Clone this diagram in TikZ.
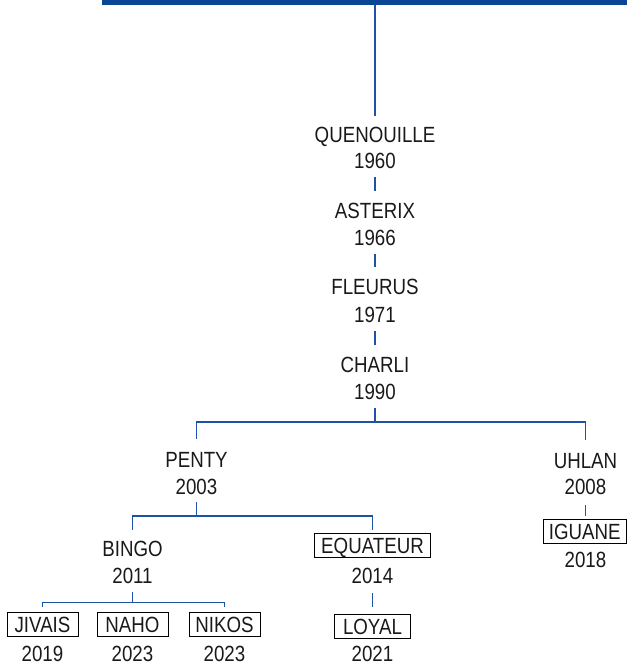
\documentclass[tikz,border=0pt]{standalone}
\usepackage{fontspec}
\setmainfont[FakeStretch=0.85]{Liberation Sans}
\definecolor{linkblue}{RGB}{30,82,165}
\definecolor{barblue}{RGB}{10,70,150}
\definecolor{txt}{RGB}{25,25,25}
\tikzset{
  lbl/.style={anchor=base, inner sep=0pt, text height=16pt, text depth=0pt, text=txt,
    font=\fontsize{22}{26}\selectfont},
  boxed/.style={lbl, draw=black, line width=0.9pt, inner ysep=4pt, inner xsep=2pt},
  link/.style={draw=linkblue, line width=1.1pt},
}
\begin{document}
\begin{tikzpicture}[x=1pt,y=-1pt]
\useasboundingbox (0,0) rectangle (627,667);
\fill[barblue] (102,0) rectangle (627,4.5);
\coordinate (top) at (375,4.5);
% main line
\node[lbl] (quen) at (375,142) {QUENOUILLE};
\node[lbl] (y1960) at (375,168) {1960};
\node[lbl] (asterix) at (375,218) {ASTERIX};
\node[lbl] (y1966) at (375,245) {1966};
\node[lbl] (fleurus) at (375,294) {FLEURUS};
\node[lbl] (y1971) at (375,322) {1971};
\node[lbl] (charli) at (375,372) {CHARLI};
\node[lbl] (y1990) at (375,399) {1990};
% level 2
\node[lbl] (penty) at (196.5,467.5) {PENTY};
\node[lbl] (y2003) at (196.5,494) {2003};
\node[lbl] (uhlan) at (585.5,468.5) {UHLAN};
\node[lbl] (y2008) at (585.5,494.5) {2008};
% level 3
\node[lbl] (bingo) at (132.5,556) {BINGO};
\node[lbl] (y2011) at (132.5,583) {2011};
\node[boxed, minimum width=116pt] (equateur) at (372.5,553) {EQUATEUR};
\node[lbl] (y2014) at (372.5,583) {2014};
\node[boxed, minimum width=83.5pt] (iguane) at (584.75,539.5) {IGUANE};
\node[lbl] (y2018) at (585.5,567) {2018};
% level 4
\node[boxed, minimum width=71pt] (jivais) at (42.5,632.5) {JIVAIS};
\node[lbl] (y2019) at (42.5,661) {2019};
\node[boxed, minimum width=71pt] (naho) at (132.5,632.5) {NAHO};
\node[lbl] (y2023a) at (132.5,661) {2023};
\node[boxed, minimum width=71pt] (nikos) at (224.5,632.5) {NIKOS};
\node[lbl] (y2023b) at (224.5,661) {2023};
\node[boxed, minimum width=76pt] (loyal) at (372.5,634) {LOYAL};
\node[lbl] (y2021) at (372.5,661) {2021};
% connectors
\path[link, shorten >=10pt] (top) -- (quen.north);
\path[link, shorten <=9pt, shorten >=11pt] (y1960.south) -- (asterix.north);
\path[link, shorten <=9pt, shorten >=11pt] (y1966.south) -- (fleurus.north);
\path[link, shorten <=9pt, shorten >=11pt] (y1971.south) -- (charli.north);
% branch from CHARLI
\coordinate (b1990) at (375,422);
\path[link, shorten <=9pt] (y1990.south) -- (b1990);
\path[link, shorten >=12pt] (b1990) -| (penty.north);
\path[link, shorten >=12pt] (b1990) -| (uhlan.north);
% branch from PENTY
\coordinate (b2003) at (196.5,516);
\path[link, shorten <=8pt] (y2003.south) -- (b2003);
\path[link, shorten >=10pt] (b2003) -| (bingo.north);
\path[link, shorten >=3pt] (b2003) -| (equateur.north);
% UHLAN -> IGUANE
\path[link, shorten <=10pt, shorten >=3pt] (y2008.south) -- (y2008.south |- iguane.north);
% branch from BINGO
\coordinate (b2011) at (132.5,602.5);
\path[link, shorten <=9pt] (y2011.south) -- (b2011);
\path[link, shorten >=5pt] (b2011) -| (jivais.north);
\path[link, shorten >=5pt] (b2011) -| (nikos.north);
% EQUATEUR -> LOYAL
\path[link, shorten <=10pt, shorten >=7pt] (y2014.south) -- (loyal.north);
\end{tikzpicture}
\end{document}
